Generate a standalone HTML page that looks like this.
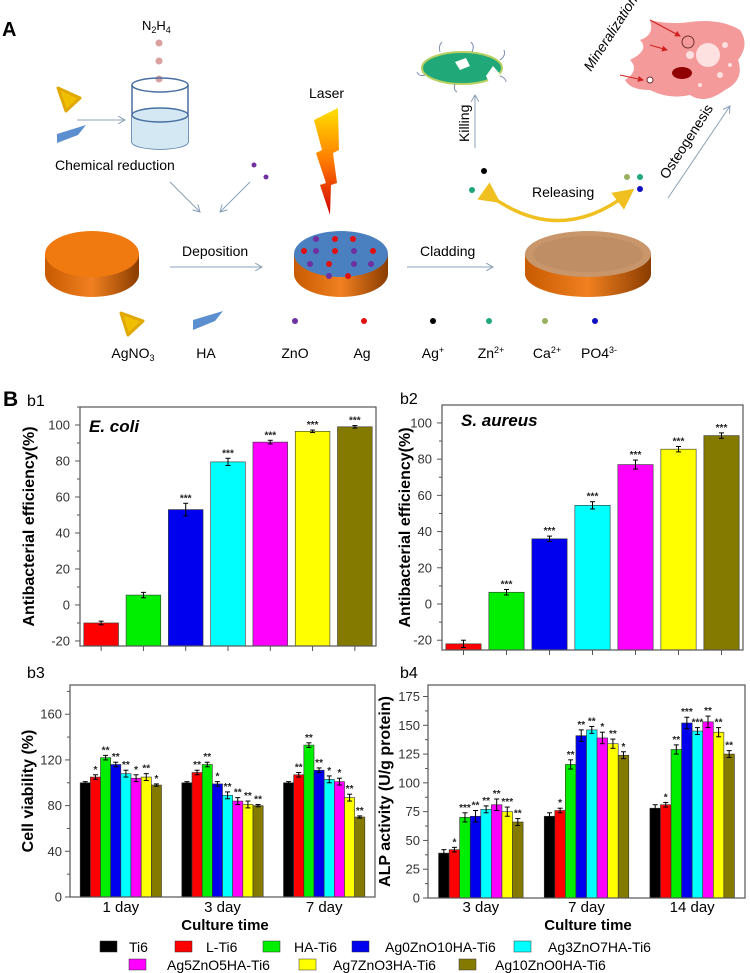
<!DOCTYPE html>
<html><head><meta charset="utf-8"><style>
body{margin:0;background:#fff;}
svg{display:block;font-family:"Liberation Sans",Arial,sans-serif;}
</style></head><body>
<svg id="fig" width="750" height="973" viewBox="0 0 750 973">
<defs>
<linearGradient id="side" x1="0" x2="1"><stop offset="0" stop-color="#c85a00"/><stop offset="0.5" stop-color="#f08020"/><stop offset="1" stop-color="#8a3c00"/></linearGradient>
<linearGradient id="bolt" x1="0" y1="0" x2="0" y2="1"><stop offset="0" stop-color="#ffe000"/><stop offset="0.5" stop-color="#ff7a00"/><stop offset="1" stop-color="#d00000"/></linearGradient>
<marker id="ah" markerWidth="8" markerHeight="8" refX="7" refY="4" orient="auto"><path d="M0,0 L7,4 L0,8" fill="none" stroke="#8aa0b8" stroke-width="1"/></marker>
<marker id="ahy" markerWidth="6" markerHeight="6" refX="3" refY="3" orient="auto"><path d="M0,0 L6,3 L0,6 Z" fill="#f0c020"/></marker>
<marker id="ahr" markerWidth="6" markerHeight="6" refX="5" refY="3" orient="auto"><path d="M0,0 L6,3 L0,6 Z" fill="#d02020"/></marker>
</defs>
<g>
<text x="2" y="36" font-size="20" font-weight="bold">A</text>
<text x="142" y="30" font-size="13">N<tspan font-size="9" dy="3">2</tspan><tspan dy="-3">H</tspan><tspan font-size="9" dy="3">4</tspan></text>
<g fill="#d9a0a0"><circle cx="159" cy="43" r="3.5"/><circle cx="159" cy="61" r="3.5"/><circle cx="159" cy="79" r="3.5"/></g>
<g>
<path d="M132,85 L132,142 A28,7 0 0 0 188,142 L188,85" fill="none" stroke="#4a70a0" stroke-width="1.5"/>
<path d="M132,115 A28,7 0 0 0 188,115 L188,142 A28,7 0 0 1 132,142 Z" fill="#d4e8f4"/>
<ellipse cx="160" cy="115" rx="28" ry="7" fill="#d4e8f4" stroke="#4a70a0" stroke-width="1.5"/>
<ellipse cx="160" cy="85" rx="28" ry="7" fill="none" stroke="#4a70a0" stroke-width="1.5"/>
</g>
<path d="M58,88 L80,98 L66,111 Z" fill="#f0c000" stroke="#e0a800" stroke-width="3" stroke-linejoin="round"/>
<path d="M57,143 L57,134 L86,125 L78,135 Z" fill="#5b8fd0"/>
<line x1="77" y1="120" x2="125" y2="120" stroke="#8aa0b8" marker-end="url(#ah)"/>
<text x="55" y="170" font-size="14">Chemical reduction</text>
<circle cx="254" cy="165" r="2.5" fill="#7030a0"/><circle cx="266" cy="177" r="2.5" fill="#7030a0"/>
<line x1="170" y1="182" x2="200" y2="212" stroke="#8aa0b8" marker-end="url(#ah)"/>
<line x1="250" y1="182" x2="220" y2="212" stroke="#8aa0b8" marker-end="url(#ah)"/>
<text x="309" y="98" font-size="14">Laser</text>
<path d="M338,108 L314,120 L322,150 L316,153 L326,183 L320,185 L330,215 L331,185 L337,183 L333,153 L339,150 Z" fill="url(#bolt)"/>
<g><path d="M45,254 L45,274 A47,23 0 0 0 139,274 L139,254 Z" fill="url(#side)"/><ellipse cx="92" cy="254" rx="47" ry="23" fill="#f07a10"/></g>
<text x="182" y="256" font-size="14">Deposition</text>
<line x1="170" y1="267" x2="262" y2="267" stroke="#8aa0b8" marker-end="url(#ah)"/>
<g><path d="M294,254 L294,274 A47,23 0 0 0 388,274 L388,254 Z" fill="url(#side)"/><ellipse cx="341" cy="254" rx="47" ry="23" fill="#4a80c0"/>
<g fill="#e01010"><circle cx="335" cy="239" r="3"/><circle cx="353" cy="239" r="3"/><circle cx="304" cy="251" r="3"/><circle cx="335" cy="251" r="3"/><circle cx="373" cy="251" r="3"/><circle cx="329" cy="264" r="3"/><circle cx="348" cy="276" r="3"/></g>
<g fill="#7030a0"><circle cx="316" cy="239" r="3"/><circle cx="316" cy="251" r="3"/><circle cx="354" cy="251" r="3"/><circle cx="310" cy="264" r="3"/><circle cx="354" cy="264" r="3"/><circle cx="371" cy="264" r="3"/><circle cx="329" cy="276" r="3"/></g></g>
<text x="420" y="256" font-size="14">Cladding</text>
<line x1="407" y1="267" x2="493" y2="267" stroke="#8aa0b8" marker-end="url(#ah)"/>
<g><path d="M525,254 L525,274 A63,23 0 0 0 651,274 L651,254 Z" fill="url(#side)"/><ellipse cx="588" cy="254" rx="63" ry="23" fill="#c8966a"/><ellipse cx="588" cy="254" rx="55" ry="18" fill="#b88660" opacity="0.5"/></g>
<g><ellipse cx="462" cy="68" rx="40" ry="16" fill="#20a878" stroke="#b8d060" stroke-width="2"/><path d="M455,62 L466,58 L470,66 L460,70 Z" fill="#fff"/><path d="M486,76 L493,66 L500,74 L490,84 Z" fill="#fff"/>
<g stroke="#8090b0" fill="none"><path d="M440,52 q-2,-6 2,-10"/><path d="M472,52 q3,-6 -1,-10"/><path d="M500,60 q6,-4 4,-10"/><path d="M425,75 q-6,2 -8,-3"/><path d="M455,84 q-2,6 2,8"/><path d="M500,76 q6,2 6,6"/></g></g>
<text transform="translate(469,142) rotate(-90)" font-size="14">Killing</text>
<line x1="475" y1="148" x2="475" y2="95" stroke="#8aa0b8" marker-end="url(#ah)"/>
<circle cx="484" cy="171" r="3" fill="#000"/><circle cx="472" cy="190" r="3" fill="#20a878"/>
<text x="532" y="197" font-size="14">Releasing</text>
<path d="M492,197 Q560,245 626,195" fill="none" stroke="#f0c020" stroke-width="3.5" marker-start="url(#ahy)" marker-end="url(#ahy)"/>
<circle cx="627" cy="177" r="3" fill="#98b060"/><circle cx="640" cy="177" r="3" fill="#20a878"/><circle cx="640" cy="189" r="3" fill="#1010c0"/>
<text transform="translate(667,180) rotate(-57)" font-size="14">Osteogenesis</text>
<line x1="668" y1="198" x2="730" y2="106" stroke="#8aa0b8" marker-end="url(#ah)"/>
<g>
<path d="M650,20 Q670,25 690,22 Q720,18 740,30 Q750,45 738,60 Q745,80 725,90 Q705,105 690,95 Q670,100 650,90 Q630,90 625,80 Q640,70 630,60 Q650,50 640,40 Q655,35 650,20 Z" fill="#f49a9a"/>
<circle cx="708" cy="55" r="12" fill="#fde0e0"/><ellipse cx="682" cy="73" rx="10" ry="6" fill="#900000"/><circle cx="688" cy="42" r="6" fill="none" stroke="#703030"/><circle cx="650" cy="80" r="3" fill="#fff" stroke="#703030"/>
<g fill="#fde0e0"><circle cx="725" cy="45" r="3"/><circle cx="690" cy="55" r="4"/><circle cx="720" cy="75" r="3"/><circle cx="700" cy="85" r="2"/><circle cx="730" cy="65" r="2"/></g>
<line x1="650" y1="20" x2="680" y2="36" stroke="#d02020" marker-end="url(#ahr)"/><line x1="650" y1="45" x2="667" y2="50" stroke="#d02020" marker-end="url(#ahr)"/><line x1="620" y1="75" x2="643" y2="80" stroke="#d02020" marker-end="url(#ahr)"/>
</g>
<text transform="translate(591,72) rotate(-57)" font-size="14" font-style="italic">Mineralization</text>
<g>
<path d="M121,313 L143,321 L128,335 Z" fill="#f0c000" stroke="#e0a800" stroke-width="3" stroke-linejoin="round"/>
<path d="M193,330 L193,320 L223,311 L215,321 Z" fill="#5b8fd0"/>
<circle cx="295" cy="321" r="3" fill="#7030a0"/><circle cx="364" cy="321" r="3" fill="#e01010"/><circle cx="433" cy="321" r="3" fill="#000"/><circle cx="489" cy="321" r="3" fill="#20a878"/><circle cx="545" cy="321" r="3" fill="#98b060"/><circle cx="595" cy="321" r="3" fill="#1010c0"/>
<g font-size="14" text-anchor="middle"><text x="133" y="358">AgNO<tspan font-size="9" dy="3">3</tspan></text><text x="206" y="358">HA</text><text x="295" y="358">ZnO</text><text x="362" y="358">Ag</text><text x="433" y="358">Ag<tspan font-size="9" dy="-5">+</tspan></text><text x="491" y="358">Zn<tspan font-size="9" dy="-5">2+</tspan></text><text x="547" y="358">Ca<tspan font-size="9" dy="-5">2+</tspan></text><text x="599" y="358">PO4<tspan font-size="9" dy="-5">3-</tspan></text></g>
</g>
</g>
<text x="3" y="406" font-size="21" font-weight="bold">B</text>
<text x="27" y="406" font-size="16">b1</text>
<text x="400" y="404" font-size="16">b2</text>
<text x="27" y="678" font-size="16">b3</text>
<text x="400" y="678" font-size="16">b4</text>
<g id="charts"></g>
</svg>
<script>
// ---- data ----
const colors = ["#000000","#ff0000","#00ee00","#0000ee","#00ffff","#ff00ff","#ffff00","#857a00"];
const seriesNames = ["Ti6","L-Ti6","HA-Ti6","Ag0ZnO10HA-Ti6","Ag3ZnO7HA-Ti6","Ag5ZnO5HA-Ti6","Ag7ZnO3HA-Ti6","Ag10ZnO0HA-Ti6"];
const b1Values = [-10, 5.5, 53, 79.5, 90.5, 96.5, 99];
const b1Err = [1, 1.5, 3.5, 2, 1, 0.7, 0.7];
const b1Sig = ["", "", "***", "***", "***", "***", "***"];
const b2Values = [-22, 6.5, 36, 54.5, 77, 85.5, 93];
const b2Err = [2, 1.5, 1.5, 2, 2.5, 1.5, 1.5];
const b2Sig = ["", "***", "***", "***", "***", "***", "***"];
const abTicks = [-20, 0, 20, 40, 60, 80, 100];
const b3Groups = ["1 day", "3 day", "7 day"];
const b3Day1 = [100, 105, 122, 116, 108, 104, 105, 98];
const b3Day3 = [100, 109, 116, 99, 89, 84, 81, 80];
const b3Day7 = [100, 107, 133, 111, 103, 101, 87, 70];
const b3Err = [1, 2, 2, 2, 3, 3, 3, 1];
const b3Sig1 = ["", "*", "**", "**", "**", "*", "**", "*"];
const b3Sig3 = ["", "**", "**", "*", "**", "**", "**", "**"];
const b3Sig7 = ["", "**", "**", "**", "*", "*", "**", "**"];
const b3Ticks = [0, 40, 80, 120, 160];
const b4Groups = ["3 day", "7 day", "14 day"];
const b4Day3 = [39, 42, 70, 71, 77, 81, 75, 66];
const b4Day7 = [71, 76, 116, 141, 146, 139, 134, 124];
const b4Day14 = [78, 81, 129, 152, 145, 153, 144, 125];
const b4Err = [3, 2, 4, 5, 3, 5, 4, 3];
const b4Sig3 = ["", "*", "***", "**", "**", "**", "***", "**"];
const b4Sig7 = ["", "*", "**", "**", "**", "*", "**", "*"];
const b4Sig14 = ["", "*", "**", "***", "***", "**", "**", "**"];
const b4Ticks = [0, 25, 50, 75, 100, 125, 150, 175];

const NS = "http://www.w3.org/2000/svg";
const root = document.getElementById("charts");
function mk(tag, attrs, parent) {
  const e = document.createElementNS(NS, tag);
  for (const k in attrs) e.setAttribute(k, attrs[k]);
  (parent || root).appendChild(e);
  return e;
}
function yScale(box, min, max) { return v => box.b - (v - min) / (max - min) * (box.b - box.t); }

function axes(g, box, ys, ticks, minorStep, tickLabelX) {
  const frame = mk("rect", {x: box.l, y: box.t, width: box.r - box.l, height: box.b - box.t, fill: "none", stroke: "#555", "stroke-width": 1.2}, g);
  
  
  const lo = ticks[0], hi = ticks[ticks.length - 1] + minorStep;
  for (let v = lo; v <= hi + 0.001; v += minorStep) {
    const y = ys(v);
    if (y < box.t) break;
    const major = ticks.includes(v);
    mk("line", {x1: box.l - (major ? 5 : 3), x2: box.l, y1: y, y2: y, stroke: "#555"}, g);
  }
  ticks.forEach(v => {
    const t = mk("text", {x: tickLabelX, y: ys(v) + 4.5, "font-size": 13, fill: "#333", "text-anchor": "end"}, g);
    t.textContent = v;
    
    
  });
}
function bar(g, x, w, v, err, sig, color, ys, base) {
  const y0 = ys(base), y1 = ys(v);
  const r = mk("rect", {x: x - w / 2, y: Math.min(y0, y1), width: w, height: Math.abs(y0 - y1), fill: color, stroke: "#333", "stroke-width": 0.6}, g);
  
  
  const et = ys(v + err), eb = ys(v - err);
  mk("line", {x1: x, x2: x, y1: et, y2: eb, stroke: "#000", "stroke-width": 1}, g);
  mk("line", {x1: x - 2.5, x2: x + 2.5, y1: et, y2: et, stroke: "#000"}, g);
  mk("line", {x1: x - 2.5, x2: x + 2.5, y1: eb, y2: eb, stroke: "#000"}, g);
  if (sig) {
    const s = mk("text", {x: x, y: et - 2, "font-size": 10, "font-weight": "bold", "text-anchor": "middle", fill: "#222"}, g);
    s.textContent = sig;
    
    
  }
}
function ytitle(g, x, y, txt) {
  const t = mk("text", {transform: `translate(${x},${y}) rotate(-90)`, "font-size": 16, "font-weight": "bold", "text-anchor": "middle"}, g);
  t.textContent = txt;
  
  
}

function antibac(name, box, min, max, vals, errs, sigs, title, titleX, titleY, ytX) {
  const g = mk("g", {});
  
  
  const ys = yScale(box, min, max);
  const band = (box.r - box.l) / vals.length;
  vals.forEach((v, i) => {
    const cx = box.l + band * (i + 0.5);
    bar(g, cx, band * 0.82, v, errs[i], sigs[i], colors[i + 1], ys, min);
    mk("line", {x1: cx, x2: cx, y1: box.b, y2: box.b + 5, stroke: "#555"}, g);
  });
  axes(g, box, ys, abTicks, 10, box.l - 10);
  const t = mk("text", {x: titleX, y: titleY, "font-size": 17, "font-weight": "bold", "font-style": "italic"}, g);
  t.textContent = title;
  
  
  ytitle(g, ytX, (box.t + box.b) / 2, "Antibacterial efficiency(%)");
}
antibac("chart-b1-e-coli", {l: 80, r: 376, t: 407, b: 646}, -22.8, 110, b1Values, b1Err, b1Sig, "E. coli", 89, 432, 34);
antibac("chart-b2-s-aureus", {l: 442, r: 743, t: 405, b: 650}, -25.4, 109.9, b2Values, b2Err, b2Sig, "S. aureus", 461, 426, 410);

function grouped(name, box, max, groups, data, errs, sigs, ticks, minor, ytxt, ytX, xtitleX) {
  const g = mk("g", {});
  
  
  const ys = yScale(box, 0, max);
  const gw = (box.r - box.l) / groups.length;
  const bw = gw * 0.1;
  groups.forEach((lab, gi) => {
    const gc = box.l + gw * (gi + 0.5);
    data[gi].forEach((v, i) => bar(g, gc + (i - 3.5) * bw, bw, v, errs[i], sigs[gi][i], colors[i], ys, 0));
    const t = mk("text", {x: gc, y: 912, "font-size": 15, "text-anchor": "middle"}, g);
    t.textContent = lab;
    
    
  });
  axes(g, box, ys, ticks, minor, box.l - 8);
  const xt = mk("text", {x: xtitleX, y: 930, "font-size": 15, "font-weight": "bold", "text-anchor": "middle"}, g);
  xt.textContent = "Culture time";
  
  
  ytitle(g, ytX, (box.t + box.b) / 2, ytxt);
}
grouped("chart-b3-cell-viability", {l: 70, r: 375, t: 685, b: 897}, 185.6, b3Groups, [b3Day1, b3Day3, b3Day7], b3Err, [b3Sig1, b3Sig3, b3Sig7], b3Ticks, 20, "Cell viability (%)", 33, 225);
grouped("chart-b4-alp-activity", {l: 428, r: 745, t: 685, b: 898}, 185, b4Groups, [b4Day3, b4Day7, b4Day14], b4Err, [b4Sig3, b4Sig7, b4Sig14], b4Ticks, 12.5, "ALP activity (U/g protein)", 390, 588);

// legend
const legSq = [[100, 947], [175, 947], [263, 947], [352, 947], [514, 947], [129, 965], [299, 965], [459, 965]];
const legTx = [129, 206, 294, 385, 548, 167, 333, 495];
const lg = mk("g", {});


seriesNames.forEach((n, i) => {
  const r = mk("rect", {x: legSq[i][0], y: legSq[i][1] - 6, width: 17, height: 11, fill: colors[i], stroke: "#333", "stroke-width": 0.5}, lg);
  
  
  const t = mk("text", {x: legTx[i], y: legSq[i][1] + 5, "font-size": 14}, lg);
  t.textContent = n;
  
  
});
</script>
</body></html>
